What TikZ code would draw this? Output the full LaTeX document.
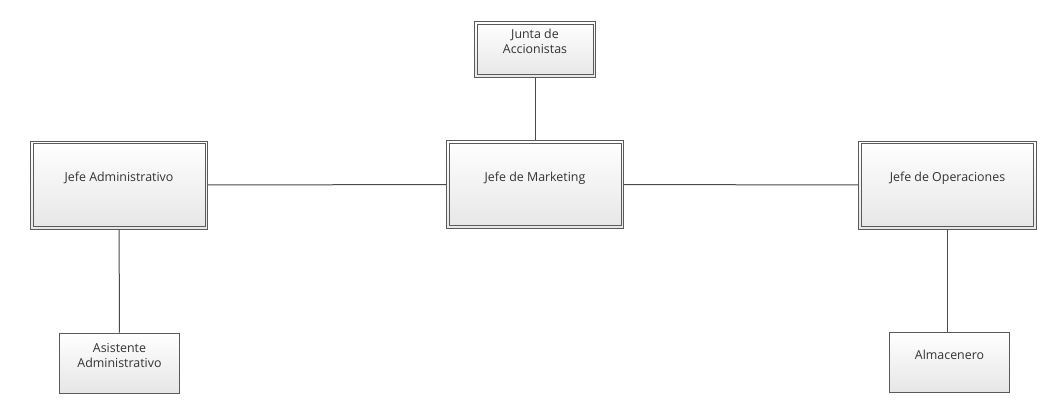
\documentclass[tikz,border=0pt]{standalone}
\usepackage{fontspec}
\setmainfont{Open Sans}
\usetikzlibrary{positioning}
\definecolor{rim}{HTML}{5A5A5A}
\definecolor{wire}{HTML}{4A4A4A}
\definecolor{shade}{HTML}{E6E6E6}
\begin{document}
\begin{tikzpicture}[
  x=0.75pt, y=-0.75pt,
  box/.style={draw=rim, line width=0.6pt, top color=white, bottom color=shade,
              align=center, font=\fontsize{9.3}{11.2}\selectfont, text=black!80,
              inner sep=2pt, text depth=12pt},
  head/.style={box, path picture={\draw[rim, line width=0.6pt]
      ([shift={(2pt,2pt)}]path picture bounding box.south west) rectangle
      ([shift={(-2pt,-2pt)}]path picture bounding box.north east);}},
  chief/.style={head, minimum width=133pt, minimum height=66pt},
  staff/.style={box, minimum width=90pt, minimum height=45pt},
  link/.style={draw=wire, line width=0.75pt},
]
\useasboundingbox (0,0) rectangle (1047,401);
\node[head, minimum width=91pt, minimum height=42pt] (junta) at (535,49.5) {Junta de\\Accionistas};
\node[chief] (mkt) at (535,184.5) {Jefe de Marketing};
\node[chief] (adm) at (119,185) {Jefe Administrativo};
\node[chief] (ope) at (947.5,185) {Jefe de Operaciones};
\node[staff] (asis) at (119.5,363) {Asistente\\Administrativo};
\node[staff] (alma) at (949.5,362.5) {Almacenero};
\draw[link] (junta) -- (mkt);
\draw[link] (adm) -- (mkt);
\draw[link] (mkt) -- (ope);
\draw[link] (adm) -- (asis);
\draw[link] (ope.south) -- (ope.south |- alma.north);
\end{tikzpicture}
\end{document}
